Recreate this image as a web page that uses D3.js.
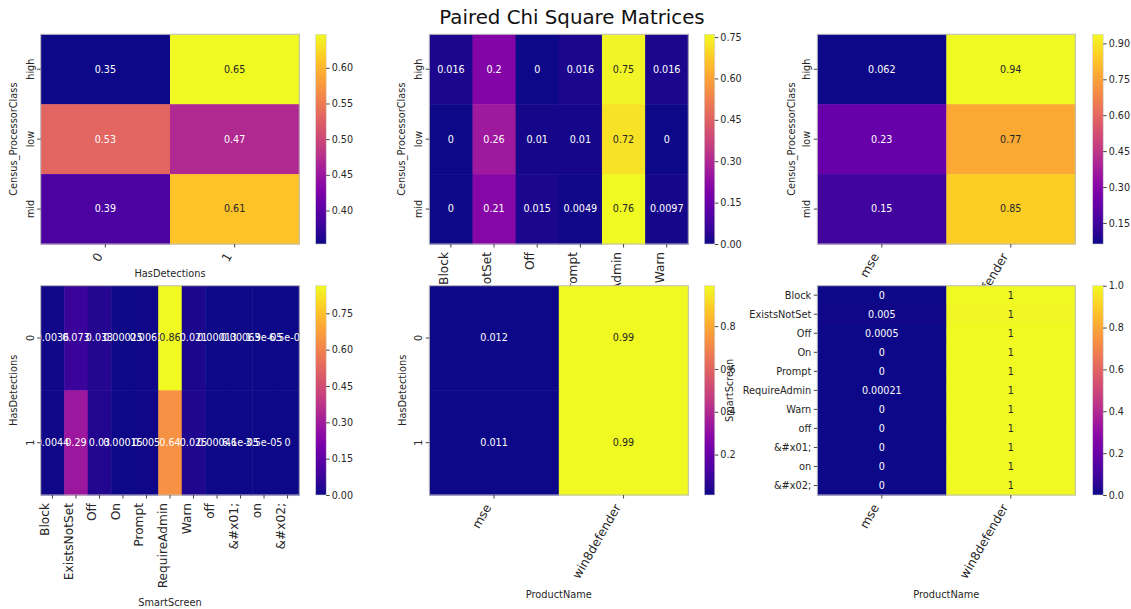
<!DOCTYPE html>
<html>
<head>
<meta charset="utf-8">
<script src="https://cdn.jsdelivr.net/npm/d3@7"></script>
<style>
  body { margin: 0; background: #fff; }
  text { font-family: "DejaVu Sans", sans-serif; fill: #262626; }
</style>
</head>
<body>
<svg id="chart"></svg>
<script>
// Figure size
const width = 1131, height = 609

// ---- data ----
const procClasses = ["high", "low", "mid"]
const detections = ["0", "1"]
const screenTop = ["Block", "ExistsNotSet", "Off", "Prompt", "RequireAdmin", "Warn"]
const screenAll = ["Block", "ExistsNotSet", "Off", "On", "Prompt", "RequireAdmin", "Warn", "off", "&#x01;", "on", "&#x02;"]
const products = ["mse", "win8defender"]

const procByDet = [[0.353, 0.647], [0.53, 0.47], [0.39, 0.61]]
const procByScreen = [
    [0.016, 0.2, 0, 0.016, 0.75, 0.016],
    [0, 0.26, 0.01, 0.01, 0.72, 0],
    [0, 0.21, 0.015, 0.0049, 0.76, 0.0097]
]
const procByProduct = [[0.062, 0.938], [0.23, 0.77], [0.15, 0.85]]
const detByScreen = [
    [0.0036, 0.073, 0.033, 0.00025, 0.0061, 0.864, 0.021, 0.00013, 0.00063, 1.9e-05, 6.5e-06],
    [0.0044, 0.29, 0.03, 0.00015, 0.005, 0.64, 0.025, 0.00046, 6.1e-05, 3.5e-05, 0]
]
const detByProduct = [[0.012, 0.988], [0.011, 0.989]]
const screenByProduct = [[0, 1], [0.00498, 0.99502], [0.0005, 0.9995], [0, 1], [0, 1], [0.00021, 0.99979],
    [0, 1], [0, 1], [0, 1], [0, 1], [0, 1]]

// colorbar ticks
const ticksDet = [0.40, 0.45, 0.50, 0.55, 0.60]
const ticks015 = [0, 0.15, 0.30, 0.45, 0.60, 0.75]
const ticksProd = [0.15, 0.30, 0.45, 0.60, 0.75, 0.90]
const ticksTwo = [0.2, 0.4, 0.6, 0.8]
const ticksUnit = [0, 0.2, 0.4, 0.6, 0.8, 1.0]

// ---- layout ----
const colsPos = [
    { x0: 40.7, x1: 299.3, cb: 315.7 },
    { x0: 429.3, x1: 688.3, cb: 704.3 },
    { x0: 817.3, x1: 1075.3, cb: 1092.7 }
]
const rowsPos = [{ y0: 34.3, y1: 244 }, { y0: 285.7, y1: 495 }]
const cbWidth = 10.5

const panels = [
    { c: 0, r: 0, rows: procClasses, cols: detections, values: procByDet, ticks: ticksDet, tf: ".2f",
      xlab: "HasDetections", ylab: "Census_ProcessorClass", xrot: 60, yrot: true, xlabOff: 32.5, ylabX: 14 },
    { c: 1, r: 0, rows: procClasses, cols: screenTop, values: procByScreen, ticks: ticks015, tf: ".2f",
      xlab: "SmartScreen", ylab: "Census_ProcessorClass", xrot: 90, yrot: true, xlabOff: 111, ylabX: 401.7 },
    { c: 2, r: 0, rows: procClasses, cols: products, values: procByProduct, ticks: ticksProd, tf: ".2f",
      xlab: "ProductName", ylab: "Census_ProcessorClass", xrot: 60, yrot: true, xlabOff: 102.5, ylabX: 791.7 },
    { c: 0, r: 1, rows: detections, cols: screenAll, values: detByScreen, ticks: ticks015, tf: ".2f",
      xlab: "SmartScreen", ylab: "HasDetections", xrot: 90, yrot: true, xlabOff: 111, ylabX: 14 },
    { c: 1, r: 1, rows: detections, cols: products, values: detByProduct, ticks: ticksTwo, tf: ".1f",
      xlab: "ProductName", ylab: "HasDetections", xrot: 60, yrot: true, xlabOff: 102.5, ylabX: 402.7 },
    { c: 2, r: 1, rows: screenAll, cols: products, values: screenByProduct, ticks: ticksUnit, tf: ".1f",
      xlab: "ProductName", ylab: "SmartScreen", xrot: 60, yrot: false, xlabOff: 102.5, ylabX: 730 }
]

const svg = d3.select("#chart")
    .attr("width", width)
    .attr("height", height)

const defs = svg.append("defs")

svg.append("text")
    .attr("x", 572)
    .attr("y", 24)
    .attr("text-anchor", "middle")
    .style("font-size", "19.8px")
    .style("fill", "#111")
    .text("Paired Chi Square Matrices")

// python style "%.2g"
function fmtAnnot(v) {
    if (v === 0) return "0"
    if (Math.abs(v) < 1e-4) {
        const s = v.toExponential(1).split("e")
        const e = +s[1]
        return s[0] + "e" + (e < 0 ? "-" : "+") + String(Math.abs(e)).padStart(2, "0")
    }
    return d3.format(".2~g")(v)
}

function luminance(c) {
    const rgb = d3.rgb(c)
    const f = function (v) {
        v /= 255
        return v <= 0.03928 ? v / 12.92 : Math.pow((v + 0.055) / 1.055, 2.4)
    }
    return 0.2126 * f(rgb.r) + 0.7152 * f(rgb.g) + 0.0722 * f(rgb.b)
}

panels.forEach(function (p, idx) {
    const cp = colsPos[p.c], rp = rowsPos[p.r]
    const g = svg.append("g")

    const x = d3.scaleBand().domain(p.cols).range([cp.x0, cp.x1])
    const y = d3.scaleBand().domain(p.rows).range([rp.y0, rp.y1])

    const cells = []
    p.values.forEach(function (row, i) {
        row.forEach(function (v, j) {
            cells.push({ r: p.rows[i], c: p.cols[j], v: v })
        })
    })
    const ext = d3.extent(cells, function (d) { return d.v })
    const color = d3.scaleSequential(d3.interpolatePlasma).domain(ext)

    // cells
    g.selectAll("rect.cell")
        .data(cells)
        .join("rect")
        .attr("class", "cell")
        .attr("x", function (d) { return x(d.c) })
        .attr("y", function (d) { return y(d.r) })
        .attr("width", x.bandwidth() + 0.5)
        .attr("height", y.bandwidth() + 0.5)
        .attr("fill", function (d) { return color(d.v) })

    // annotations
    g.selectAll("text.annot")
        .data(cells)
        .join("text")
        .attr("class", "annot")
        .attr("x", function (d) { return x(d.c) + x.bandwidth() / 2 })
        .attr("y", function (d) { return y(d.r) + y.bandwidth() / 2 })
        .attr("dy", "0.35em")
        .attr("text-anchor", "middle")
        .style("font-size", "9.6px")
        .style("fill", function (d) { return luminance(color(d.v)) > 0.408 ? "#262626" : "#fff" })
        .text(function (d) { return fmtAnnot(d.v) })

    // frame
    g.append("rect")
        .attr("x", cp.x0)
        .attr("y", rp.y0)
        .attr("width", cp.x1 - cp.x0)
        .attr("height", rp.y1 - rp.y0)
        .attr("fill", "none")
        .attr("stroke", "#bcbcbc")
        .attr("stroke-width", 1)

    // x ticks
    const xt = g.selectAll("g.xt")
        .data(p.cols)
        .join("g")
        .attr("class", "xt")
    xt.append("line")
        .attr("x1", function (d) { return x(d) + x.bandwidth() / 2 })
        .attr("x2", function (d) { return x(d) + x.bandwidth() / 2 })
        .attr("y1", rp.y1)
        .attr("y2", rp.y1 + 3.5)
        .attr("stroke", "#444")
    xt.append("text")
        .attr("transform", function (d) {
            const tx = x(d) + x.bandwidth() / 2
            if (p.xrot === 90) return `translate(${tx - 3},${rp.y1 + 8}) rotate(-90)`
            return `translate(${tx - 6},${rp.y1 + 10}) rotate(-60)`
        })
        .attr("dy", p.xrot === 90 ? "0" : "0.35em")
        .attr("text-anchor", "end")
        .style("font-size", "12.2px")
        .text(function (d) { return d })

    // y ticks
    const yt = g.selectAll("g.yt")
        .data(p.rows)
        .join("g")
        .attr("class", "yt")
    yt.append("line")
        .attr("x1", cp.x0 - 3.5)
        .attr("x2", cp.x0)
        .attr("y1", function (d) { return y(d) + y.bandwidth() / 2 })
        .attr("y2", function (d) { return y(d) + y.bandwidth() / 2 })
        .attr("stroke", "#444")
    if (p.yrot) {
        yt.append("text")
            .attr("transform", function (d) {
                return `translate(${cp.x0 - 10.5},${y(d) + y.bandwidth() / 2}) rotate(-90)`
            })
            .attr("dy", "0.35em")
            .attr("text-anchor", "middle")
            .style("font-size", "9.6px")
            .text(function (d) { return d })
    } else {
        yt.append("text")
            .attr("x", cp.x0 - 6)
            .attr("y", function (d) { return y(d) + y.bandwidth() / 2 })
            .attr("dy", "0.35em")
            .attr("text-anchor", "end")
            .style("font-size", "9.8px")
            .text(function (d) { return d })
    }

    // axis labels
    g.append("text")
        .attr("x", (cp.x0 + cp.x1) / 2)
        .attr("y", rp.y1 + p.xlabOff)
        .attr("text-anchor", "middle")
        .style("font-size", "9.8px")
        .text(p.xlab)
    g.append("text")
        .attr("transform", `translate(${p.ylabX},${(rp.y0 + rp.y1) / 2}) rotate(-90)`)
        .attr("dy", "0.35em")
        .attr("text-anchor", "middle")
        .style("font-size", "9.8px")
        .text(p.ylab)

    // colorbar
    const gid = "cbgrad" + idx
    const grad = defs.append("linearGradient")
        .attr("id", gid)
        .attr("x1", "0").attr("y1", "1").attr("x2", "0").attr("y2", "0")
    grad.selectAll("stop")
        .data(d3.range(0, 1.0001, 0.05))
        .join("stop")
        .attr("offset", function (d) { return (d * 100) + "%" })
        .attr("stop-color", function (d) { return d3.interpolatePlasma(d) })

    g.append("rect")
        .attr("x", cp.cb)
        .attr("y", rp.y0)
        .attr("width", cbWidth)
        .attr("height", rp.y1 - rp.y0)
        .attr("fill", `url(#${gid})`)
        .attr("stroke", "#d0d0d0")
        .attr("stroke-width", 0.6)

    const cbScale = d3.scaleLinear().domain(ext).range([rp.y1, rp.y0])
    const cbAxis = g.append("g")
        .attr("transform", `translate(${cp.cb + cbWidth},0)`)
        .call(d3.axisRight(cbScale).tickValues(p.ticks).tickSize(3.5).tickPadding(2).tickFormat(d3.format(p.tf)))
    cbAxis.select(".domain").remove()
    cbAxis.selectAll(".tick line").attr("stroke", "#444")
    cbAxis.selectAll(".tick text")
        .style("font-size", "9.6px")
        .style("font-family", "DejaVu Sans, sans-serif")
        .attr("fill", "#262626")
})
</script>
</body>
</html>
